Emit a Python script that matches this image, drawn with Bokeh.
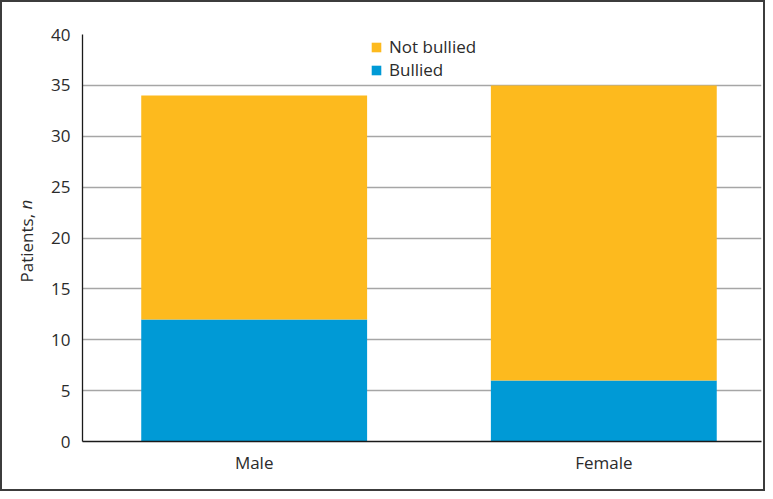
from bokeh.plotting import figure
from bokeh.models import ColumnDataSource, Legend, LegendItem, Label, FixedTicker, Range1d
from bokeh.embed import file_html
from bokeh.resources import INLINE

categories = ["Male", "Female"]
bullied = [12, 6]
not_bullied = [22, 29]
y_ticks = [0, 5, 10, 15, 20, 25, 30, 35, 40]

FONT = "Open Sans"
BLUE = "#009AD6"
ORANGE = "#FDBA1E"

xs = list(range(len(categories)))
src = ColumnDataSource(dict(
    x=xs,
    bullied=bullied,
    not_bullied=not_bullied,
    total=[b + n for b, n in zip(bullied, not_bullied)],
    zero=[0] * len(xs),
))

p = figure(width=765, height=491, output_backend="svg", toolbar_location=None,
           x_range=Range1d(-0.491, 1.451), y_range=Range1d(0, 40),
           min_border_left=72, min_border_right=6, min_border_top=32, min_border_bottom=52)
p.styles = {"border": "2px solid #3c3c3c"}
p.outline_line_color = None
p.background_fill_color = "white"

r_b = p.vbar(x="x", width=0.646, bottom="zero", top="bullied", source=src,
             fill_color=BLUE, line_color=None)
r_n = p.vbar(x="x", width=0.646, bottom="bullied", top="total", source=src,
             fill_color=ORANGE, line_color=None)

# axes
p.yaxis.ticker = FixedTicker(ticks=y_ticks)
p.xaxis.ticker = FixedTicker(ticks=xs)
p.xaxis.major_label_overrides = {i: c for i, c in enumerate(categories)}
for ax in (p.xaxis[0], p.yaxis[0]):
    ax.major_tick_line_color = None
    ax.minor_tick_line_color = None
    ax.axis_line_color = "#1a1a1a"
    ax.axis_line_width = 1.3
    ax.major_label_text_font = FONT
    ax.major_label_text_font_size = "17px"
    ax.major_label_text_color = "#2b2b2b"
p.yaxis.major_label_standoff = 6
p.xaxis.major_label_standoff = 3
p.xaxis.axis_label = None
p.yaxis.axis_label = None

p.xgrid.grid_line_color = None
p.ygrid.grid_line_color = "#a6a6a6"
p.ygrid.grid_line_width = 1.3

# y-axis label with italic n, placed in the left panel
lab1 = Label(x=1, y=232, x_units="screen", y_units="screen", text="Patients, ",
             angle=90, angle_units="deg", text_align="right", text_baseline="middle",
             text_font=FONT, text_font_size="17px", text_color="#2b2b2b")
lab2 = Label(x=23, y=232, x_units="screen", y_units="screen", text="n",
             angle=90, angle_units="deg", text_align="left", text_baseline="middle",
             text_font=FONT, text_font_size="17px", text_font_style="italic",
             text_color="#2b2b2b")
p.add_layout(lab1, "left")
p.add_layout(lab2, "left")

legend = Legend(items=[LegendItem(label="Not bullied", renderers=[r_n]),
                       LegendItem(label="Bullied", renderers=[r_b])],
                location=(288, 360), orientation="vertical")
legend.background_fill_alpha = 0
legend.border_line_color = None
legend.padding = 2
legend.margin = 0
legend.spacing = 0
legend.glyph_width = 12
legend.glyph_height = 12
legend.label_standoff = 7
legend.label_text_font = FONT
legend.label_text_font_size = "17px"
legend.label_text_color = "#2b2b2b"
legend.label_height = 22
p.add_layout(legend)

open("out.html", "w").write(file_html(p, INLINE))
